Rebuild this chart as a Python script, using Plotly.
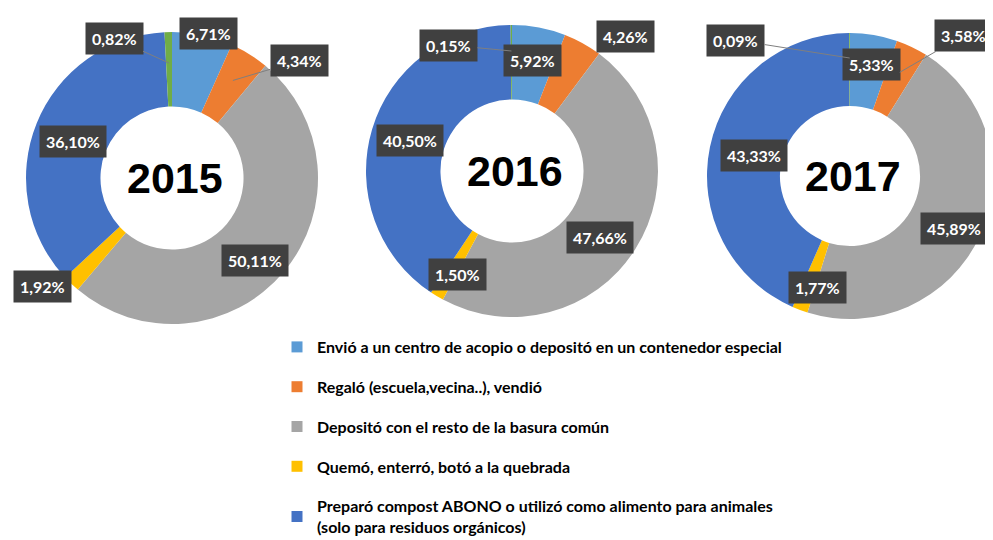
import math
import plotly.graph_objects as go

# ---------------- data ----------------
years = ["2015", "2016", "2017"]
categories = [
    "Envió a un centro de acopio o depositó en un contenedor especial",
    "Regaló (escuela,vecina..), vendió",
    "Depositó con el resto de la basura común",
    "Quemó, enterró, botó a la quebrada",
    "Preparó compost ABONO o utilizó como alimento para animales<br>(solo para residuos orgánicos)",
    "Otro",
]
values_2015 = [6.71, 4.34, 50.11, 1.92, 36.10, 0.82]
values_2016 = [5.92, 4.26, 47.66, 1.50, 40.50, 0.15]
values_2017 = [5.33, 3.58, 45.89, 1.77, 43.33, 0.09]
values_by_year = [values_2015, values_2016, values_2017]

# ---------------- style ----------------
colors = ["#5B9BD5", "#ED7D31", "#A5A5A5", "#FFC000", "#4472C4", "#70AD47"]
VIEW_W = 993
OFF = 8                      # default page body margin
W, H = VIEW_W - OFF, 580     # figure is taller than the window; the bottom is cropped
centers = [(172, 178), (512, 171), (850, 176)]   # screen-pixel centres of donuts
radii = [146, 146, 143]                           # outer radius, px
HOLE = 0.49

# label placement: (radius along slice mid-angle, dx, dy, leader line)
label_style = [
    [(146, 6, -2, False), (115, 67, -20, True), (115, -5, 9, False),
     (150, -26, 0, False), (105, -2, 3, False), (115, -55, -25, True)],
    [(112, 0, 0, False), (150, 41, -3, False), (113, -7, 6, False),
     (115, 5, 5, False), (108, 2, 0, False), (120, -63, -6, True)],
    [(113, 3, 0, False), (115, 64, -37, True), (113, 1, 5, False),
     (112, 7, 7, False), (102, 4, 0, False), (118, -114, -18, True)],
]

LABEL_FONT = dict(family="Lato, 'Open Sans', sans-serif", size=16, color="white")
BOX_COLOR = "#404040"


def px_to_paper(x, y):
    return (x - OFF) / W, 1 - (y - OFF) / H


fig = go.Figure()
annotations = []

for yi, (year, vals) in enumerate(zip(years, values_by_year)):
    cx, cy = centers[yi]
    R = radii[yi]
    x0, x1 = px_to_paper(cx - R, cy)[0], px_to_paper(cx + R, cy)[0]
    y0, y1 = px_to_paper(cx, cy + R)[1], px_to_paper(cx, cy - R)[1]
    fig.add_trace(go.Pie(
        labels=categories, values=vals, hole=HOLE, sort=False,
        direction="clockwise", rotation=0, textinfo="none",
        marker=dict(colors=colors, line=dict(width=0)),
        domain=dict(x=[max(0, x0), min(1, x1)], y=[y0, y1]),
        showlegend=False, hoverinfo="label+percent",
    ))

    total = sum(vals)
    cum = 0.0
    for ci, v in enumerate(vals):
        theta = math.radians(360 * (cum + v / 2) / total)
        cum += v
        r, dx, dy, leader = label_style[yi][ci]
        tx = cx + r * math.sin(theta)
        ty = cy - r * math.cos(theta)
        text = "<b>" + f"{v:.2f}%".replace(".", ",") + "</b>"
        if leader:
            px, py = px_to_paper(tx, ty)
            annotations.append(dict(
                x=px, y=py, xref="paper", yref="paper", text=text,
                showarrow=True, arrowhead=0, arrowwidth=1, arrowcolor="#7F7F7F",
                ax=dx, ay=dy, standoff=0, font=LABEL_FONT,
                bgcolor=BOX_COLOR, borderpad=6))
        else:
            px, py = px_to_paper(tx + dx, ty + dy)
            annotations.append(dict(
                x=px, y=py, xref="paper", yref="paper", text=text,
                showarrow=False, font=LABEL_FONT, xanchor="center", yanchor="middle",
                bgcolor=BOX_COLOR, borderpad=6))

    px, py = px_to_paper(cx + 3, cy)
    annotations.append(dict(
        x=px, y=py, xref="paper", yref="paper", text="<b>" + year + "</b>",
        showarrow=False, xanchor="center", yanchor="middle",
        font=dict(family="Liberation Sans, Arial, sans-serif", size=43, color="black")))

# legend via dummy traces (first five categories visible in reference)
for i in range(5):
    fig.add_trace(go.Scatter(
        x=[None], y=[None], mode="markers", name=categories[i],
        marker=dict(symbol="square", size=11, color=colors[i]),
        legendgroup=str(i), showlegend=True))

lx, ly = px_to_paper(277, 330)
fig.update_layout(
    width=W, height=H,
    margin=dict(l=0, r=0, t=0, b=0),
    paper_bgcolor="white", plot_bgcolor="white",
    xaxis=dict(visible=False), yaxis=dict(visible=False),
    annotations=annotations,
    legend=dict(
        x=lx, y=ly, xanchor="left", yanchor="top",
        font=dict(family="Lato, 'Open Sans', sans-serif", size=16, color="black", weight=700),
        tracegroupgap=16, bgcolor="rgba(0,0,0,0)", itemclick=False,
    ),
)

fig.write_html("out.html")
